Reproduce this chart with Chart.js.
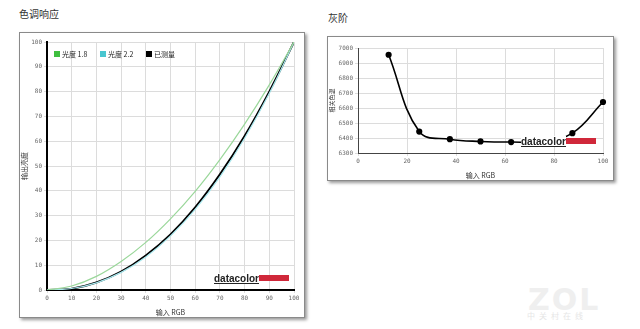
<!DOCTYPE html>
<html>
<head>
<meta charset="utf-8">
<script src="https://cdn.jsdelivr.net/npm/chart.js@4"></script>
<style>
  body { margin: 0; width: 640px; height: 329px; background: #fff; position: relative; overflow: hidden; font-family: "Noto Sans CJK SC", sans-serif; }
  .titulo { position: absolute; font-size: 10px; color: #333; }
  .caixa { position: absolute; border: 1px solid #8a8a8a; box-shadow: 2px 2px 3px #9a9a9a; background: #fff; }
  .caixa canvas { display: block; }
  .logo { position: absolute; font-family: "Liberation Sans", sans-serif; font-weight: bold; font-size: 10px; color: #222; border-bottom: 1px solid #222; line-height: 9px; background: #fff; padding-top: 1px; }
  .logo span { position: absolute; left: 100%; top: 2px; width: 30px; height: 6px; background: #d0283a; }
  .marca { position: absolute; left: 528px; top: 282px; color: #efefef; font-family: "DejaVu Sans"; font-weight: bold; font-size: 30px; letter-spacing: 2px; }
  .marca2 { position: absolute; left: 527px; top: 310px; color: #e6e6e6; font-size: 8px; letter-spacing: 4px; }
</style>
</head>
<body>
<div class="titulo" style="left:19px; top:6px;">色调响应</div>
<div class="titulo" style="left:328px; top:10px;">灰阶</div>

<div class="caixa" style="left:19px; top:32px; width:284px; height:284px;">
  <canvas id="graficoGama" width="284" height="284"></canvas>
</div>
<div class="caixa" style="left:327px; top:36px; width:285px; height:143px;">
  <canvas id="graficoCinza" width="285" height="143"></canvas>
</div>

<div class="logo" style="left:214px; top:273px;">datacolor<span></span></div>
<div class="logo" style="left:521px; top:136px;">datacolor<span></span></div>

<div class="marca">ZOL</div>
<div class="marca2">中关村在线</div>

<script>
// tone response (gamma)
const entradaRGB = [0, 10, 20, 30, 40, 50, 60, 70, 80, 90, 100];
const gama18 = [0, 1.6, 5.5, 11.5, 19.2, 28.7, 39.8, 52.6, 66.9, 82.7, 100];
const gama22 = [0, 0.6, 2.9, 7.1, 13.3, 21.8, 32.5, 45.6, 61.2, 79.3, 100];
const medido = [0, 0.5, 3.0, 7.4, 13.9, 22.4, 33.3, 46.6, 62.1, 80.0, 100];

// grayscale colour temperature
const entradaCinza = [12.5, 25, 37.5, 50, 62.5, 75, 87.5, 100];
const temperatura = [6955, 6443, 6392, 6377, 6373, 6378, 6432, 6640];

const corTick = '#666';
const corGrelha = '#dcdcdc';
const fonteTick = { family: 'DejaVu Sans Mono', size: 6 };
const fonteTitulo = { family: 'Noto Sans CJK SC', size: 7 };

const pares = (xs, ys) => xs.map((x, i) => ({ x: x, y: ys[i] }));

// legenda horizontal dentro da area do grafico
const legendaDentro = {
    id: 'legendaDentro',
    afterDraw(chart) {
        const c = chart.ctx;
        const area = chart.chartArea;
        let x = area.left + 7;
        const y = area.top + 12;
        c.save();
        c.font = '7px "Noto Sans CJK SC"';
        c.textBaseline = 'middle';
        chart.data.datasets.forEach(ds => {
            c.fillStyle = ds.backgroundColor;
            c.fillRect(x, y - 3, 6, 6);
            c.fillStyle = '#222';
            c.fillText(ds.label, x + 8, y);
            x += 46;
        });
        c.restore();
    }
};

new Chart(document.getElementById('graficoGama').getContext('2d'), {
    type: 'line',
    data: {
        datasets: [{
            label: '光度 1.8',
            data: pares(entradaRGB, gama18),
            borderColor: '#9ad79a',
            backgroundColor: '#3fbf3f',
            borderWidth: 1.2,
            pointRadius: 0,
            tension: 0.4
        }, {
            label: '光度 2.2',
            data: pares(entradaRGB, gama22),
            borderColor: '#a8e8ee',
            backgroundColor: '#49c6d0',
            borderWidth: 1.2,
            pointRadius: 0,
            tension: 0.4
        }, {
            label: '已测量',
            data: pares(entradaRGB, medido),
            borderColor: '#000',
            backgroundColor: '#000',
            borderWidth: 2,
            pointRadius: 0,
            tension: 0.4
        }]
    },
    options: {
        responsive: false,
        animation: false,
        layout: { padding: { top: 9, right: 10, left: 0, bottom: 0 } },
        scales: {
            x: {
                type: 'linear', min: 0, max: 100,
                ticks: { stepSize: 10, color: corTick, font: fonteTick, padding: 2 },
                grid: { color: corGrelha, tickLength: 3 },
                border: { color: '#000', width: 2 },
                title: { display: true, text: '输入 RGB', color: '#333', font: fonteTitulo, padding: 0 },
                afterFit: a => { a.height = 27; }
            },
            y: {
                min: 0, max: 100,
                ticks: { stepSize: 10, color: corTick, font: fonteTick, padding: 2 },
                grid: { color: corGrelha, tickLength: 3 },
                border: { color: '#000', width: 2 },
                title: { display: true, text: '输出亮度', color: '#333', font: fonteTitulo, padding: 0 },
                afterFit: a => { a.width = 27; }
            }
        },
        plugins: {
            legend: { display: false },
            tooltip: { enabled: false }
        }
    },
    plugins: [legendaDentro]
});

new Chart(document.getElementById('graficoCinza').getContext('2d'), {
    type: 'line',
    data: {
        datasets: [{
            label: '色温',
            data: pares(entradaCinza, temperatura),
            borderColor: '#000',
            backgroundColor: '#000',
            borderWidth: 1.6,
            pointRadius: 2.3,
            tension: 0.4,
            clip: false
        }]
    },
    options: {
        responsive: false,
        animation: false,
        layout: { padding: { top: 11, right: 10, left: 0, bottom: 0 } },
        scales: {
            x: {
                type: 'linear', min: 0, max: 100,
                ticks: { stepSize: 20, color: corTick, font: fonteTick, padding: 2 },
                grid: { color: corGrelha, tickLength: 3 },
                border: { color: '#444', width: 1 },
                title: { display: true, text: '输入 RGB', color: '#333', font: fonteTitulo, padding: 0 },
                afterFit: a => { a.height = 27; }
            },
            y: {
                min: 6300, max: 7000,
                ticks: { stepSize: 100, color: corTick, font: fonteTick, padding: 2, callback: v => String(v) },
                grid: { color: corGrelha, tickLength: 3 },
                border: { color: '#444', width: 1 },
                title: { display: true, text: '相关色温', color: '#333', font: { family: 'Noto Sans CJK SC', size: 6 }, padding: 0 },
                afterFit: a => { a.width = 30; }
            }
        },
        plugins: {
            legend: { display: false },
            tooltip: { enabled: false }
        }
    }
});
</script>
</body>
</html>
